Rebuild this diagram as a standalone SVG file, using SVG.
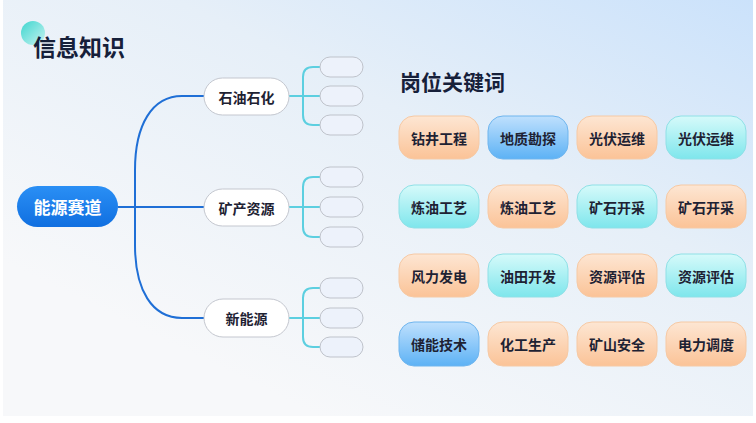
<svg xmlns="http://www.w3.org/2000/svg" width="756" height="423" viewBox="0 0 756 423">
<defs>
<linearGradient id="bg" x1="1" y1="0" x2="0.25" y2="0.85">
<stop offset="0" stop-color="#cbe2fb"/>
<stop offset="0.45" stop-color="#e6eff8"/>
<stop offset="1" stop-color="#f7f8fa"/>
</linearGradient>
<linearGradient id="dot" x1="0" y1="0" x2="1" y2="1">
<stop offset="0" stop-color="#3fd6cf"/>
<stop offset="1" stop-color="#c8f3f1"/>
</linearGradient>
<linearGradient id="root" x1="0" y1="0" x2="0" y2="1">
<stop offset="0" stop-color="#2a8ff5"/>
<stop offset="1" stop-color="#106fe0"/>
</linearGradient>
<linearGradient id="gO" x1="0" y1="0" x2="0" y2="1">
<stop offset="0" stop-color="#fde6d3"/>
<stop offset="1" stop-color="#fbc397"/>
</linearGradient>
<linearGradient id="gB" x1="0" y1="0" x2="0" y2="1">
<stop offset="0" stop-color="#bfe0fd"/>
<stop offset="1" stop-color="#5db2f5"/>
</linearGradient>
<linearGradient id="gC" x1="0" y1="0" x2="0" y2="1">
<stop offset="0" stop-color="#d6fafa"/>
<stop offset="1" stop-color="#7ee6ec"/>
</linearGradient>
</defs>
<style>
text{font-family:"Noto Sans CJK SC","Noto Sans",sans-serif;text-anchor:middle;dominant-baseline:central}
.title{font-size:23px;font-weight:700;fill:#16203a;text-anchor:start}
.rootT{font-size:17px;font-weight:700;fill:#ffffff}
.midT{font-size:14px;font-weight:700;fill:#1e2233}
.mid{fill:#ffffff;stroke:#c4c7cf;stroke-width:1}
.leaf{fill:#edf2fb;stroke:#bfc3cb;stroke-width:1}
.tag{stroke-width:1}
.o{fill:url(#gO);stroke:#f6c9a4}
.b{fill:url(#gB);stroke:#6fb5ee}
.c{fill:url(#gC);stroke:#8fe0e6}
.tagT{font-size:14px;font-weight:700;fill:#1e2233}
.main{fill:none;stroke:#1f6fd6;stroke-width:2}
.sub{fill:none;stroke:#5ccfe0;stroke-width:2}
</style>
<rect x="0" y="0" width="756" height="423" fill="#ffffff"/>
<rect x="3" y="0" width="750" height="416" fill="url(#bg)"/>

<g id="title">
<circle cx="33" cy="33" r="12" fill="url(#dot)"/>
<text class="title" x="33" y="46">信息知识</text>
</g>
<g id="heading">
<text class="title" x="400" y="81" style="font-size:21px">岗位关键词</text>
</g>

<g id="connectors">
<path class="main" d="M118,207 H204"/>
<path class="main" d="M204,96 H182 C152,96 135,125 135,170 V245 C135,290 152,318 182,318 H204"/>
<path class="sub" d="M289,96 H320 M320,67 H313 Q303,67 303,77 V115 Q303,125 313,125 H320"/>
<path class="sub" d="M289,207 H320 M320,177 H313 Q303,177 303,187 V227 Q303,237 313,237 H320"/>
<path class="sub" d="M289,318 H320 M320,288 H313 Q303,288 303,298 V337 Q303,347 313,347 H320"/>
</g>

<g id="root-node">
<rect x="17" y="186" width="101" height="41" rx="20.5" fill="url(#root)"/>
<text class="rootT" x="67.5" y="206.5">能源赛道</text>
</g>

<g id="node-shiyou">
<rect class="mid" x="204" y="78" width="85" height="37" rx="18.5"/>
<text class="midT" x="246.5" y="96.5">石油石化</text>
</g>
<g id="node-kuangchan">
<rect class="mid" x="204" y="189" width="85" height="37" rx="18.5"/>
<text class="midT" x="246.5" y="207.5">矿产资源</text>
</g>
<g id="node-xinnengyuan">
<rect class="mid" x="204" y="299" width="85" height="38" rx="19"/>
<text class="midT" x="246.5" y="318">新能源</text>
</g>

<g id="leaves-1">
<rect class="leaf" x="320" y="57" width="43" height="20" rx="10"/>
<rect class="leaf" x="320" y="86" width="43" height="20" rx="10"/>
<rect class="leaf" x="320" y="115" width="43" height="20" rx="10"/>
</g>
<g id="leaves-2">
<rect class="leaf" x="320" y="167" width="43" height="20" rx="10"/>
<rect class="leaf" x="320" y="197" width="43" height="20" rx="10"/>
<rect class="leaf" x="320" y="227" width="43" height="20" rx="10"/>
</g>
<g id="leaves-3">
<rect class="leaf" x="320" y="278" width="43" height="20" rx="10"/>
<rect class="leaf" x="320" y="308" width="43" height="20" rx="10"/>
<rect class="leaf" x="320" y="337" width="43" height="20" rx="10"/>
</g>

<g id="tag-r1c1"><rect class="tag o" x="399" y="116" width="80" height="43" rx="15"/><text class="tagT" x="439" y="137.5">钻井工程</text></g>
<g id="tag-r1c2"><rect class="tag b" x="488" y="116" width="80" height="43" rx="15"/><text class="tagT" x="528" y="137.5">地质勘探</text></g>
<g id="tag-r1c3"><rect class="tag o" x="577" y="116" width="80" height="43" rx="15"/><text class="tagT" x="617" y="137.5">光伏运维</text></g>
<g id="tag-r1c4"><rect class="tag c" x="666" y="116" width="80" height="43" rx="15"/><text class="tagT" x="706" y="137.5">光伏运维</text></g>

<g id="tag-r2c1"><rect class="tag c" x="399" y="185" width="80" height="43" rx="15"/><text class="tagT" x="439" y="206.5">炼油工艺</text></g>
<g id="tag-r2c2"><rect class="tag o" x="488" y="185" width="80" height="43" rx="15"/><text class="tagT" x="528" y="206.5">炼油工艺</text></g>
<g id="tag-r2c3"><rect class="tag c" x="577" y="185" width="80" height="43" rx="15"/><text class="tagT" x="617" y="206.5">矿石开采</text></g>
<g id="tag-r2c4"><rect class="tag o" x="666" y="185" width="80" height="43" rx="15"/><text class="tagT" x="706" y="206.5">矿石开采</text></g>

<g id="tag-r3c1"><rect class="tag o" x="399" y="254" width="80" height="43" rx="15"/><text class="tagT" x="439" y="275.5">风力发电</text></g>
<g id="tag-r3c2"><rect class="tag c" x="488" y="254" width="80" height="43" rx="15"/><text class="tagT" x="528" y="275.5">油田开发</text></g>
<g id="tag-r3c3"><rect class="tag o" x="577" y="254" width="80" height="43" rx="15"/><text class="tagT" x="617" y="275.5">资源评估</text></g>
<g id="tag-r3c4"><rect class="tag c" x="666" y="254" width="80" height="43" rx="15"/><text class="tagT" x="706" y="275.5">资源评估</text></g>

<g id="tag-r4c1"><rect class="tag b" x="399" y="322" width="80" height="44" rx="15"/><text class="tagT" x="439" y="344">储能技术</text></g>
<g id="tag-r4c2"><rect class="tag o" x="488" y="322" width="80" height="44" rx="15"/><text class="tagT" x="528" y="344">化工生产</text></g>
<g id="tag-r4c3"><rect class="tag o" x="577" y="322" width="80" height="44" rx="15"/><text class="tagT" x="617" y="344">矿山安全</text></g>
<g id="tag-r4c4"><rect class="tag o" x="666" y="322" width="80" height="44" rx="15"/><text class="tagT" x="706" y="344">电力调度</text></g>
</svg>
